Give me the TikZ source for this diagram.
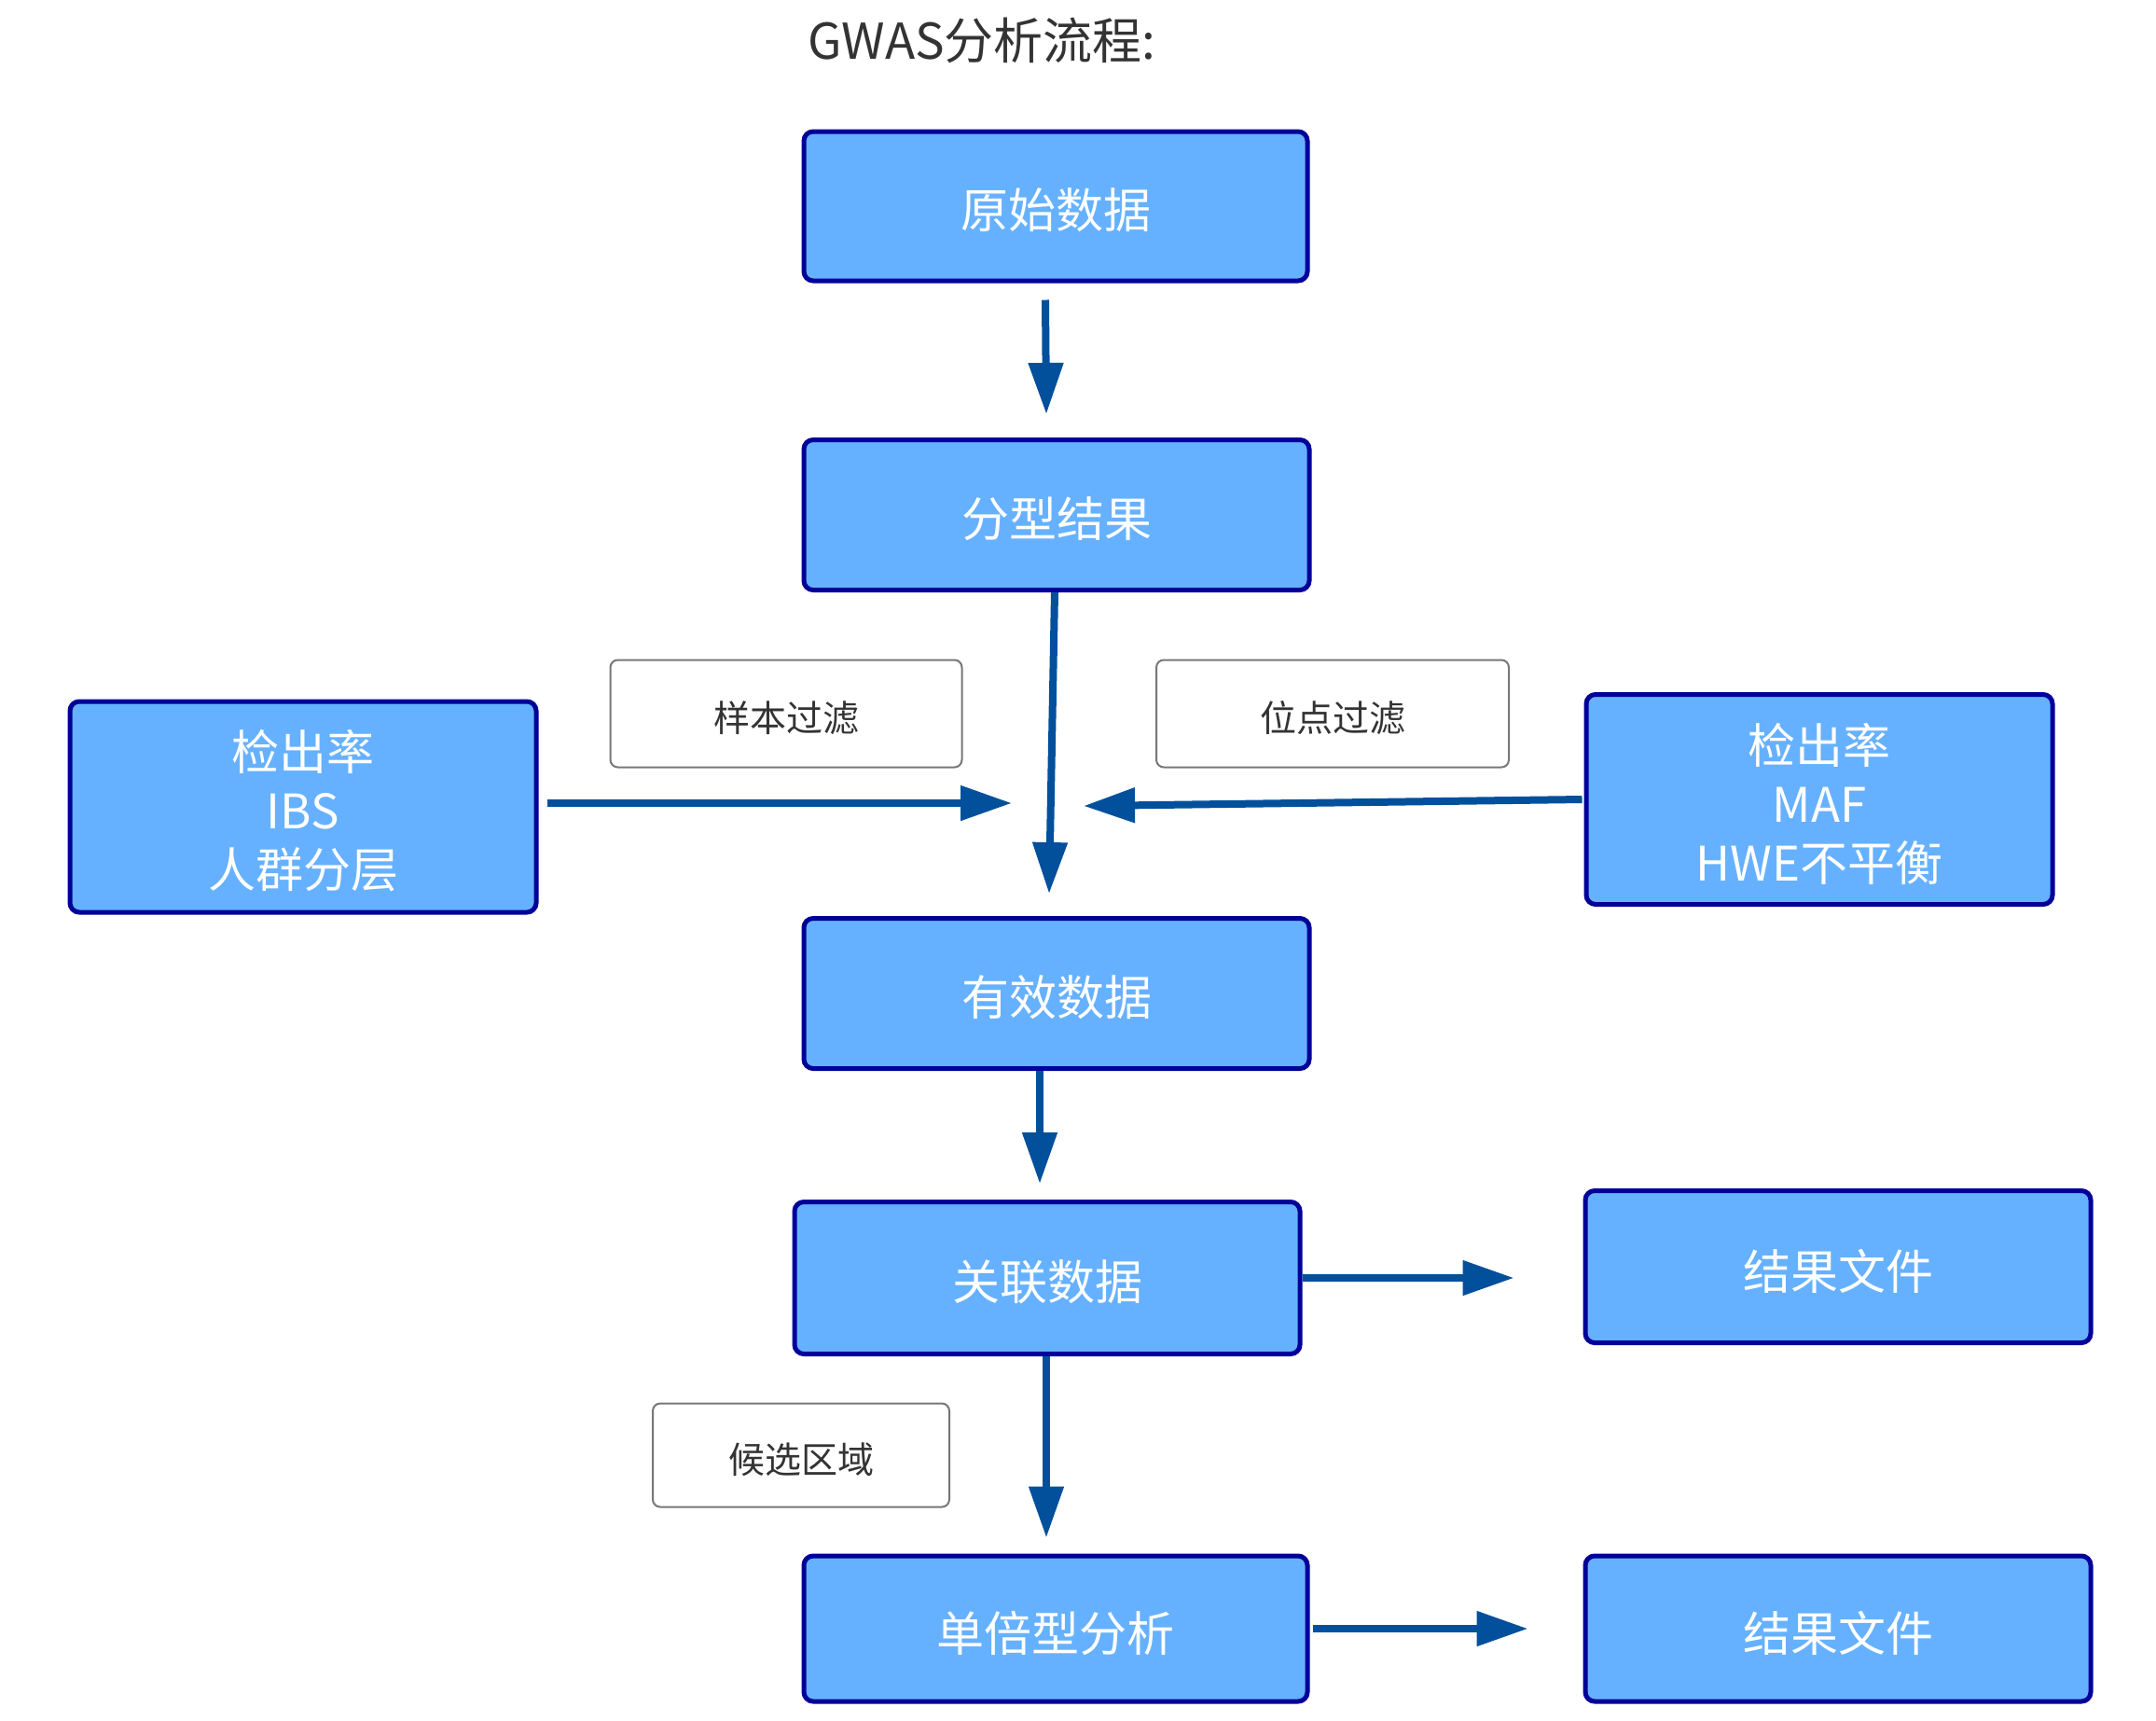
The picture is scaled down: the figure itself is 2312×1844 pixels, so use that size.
\documentclass[tikz,border=0pt]{standalone}
\usepackage{fontspec}
\setmainfont{Noto Sans CJK SC}
\usetikzlibrary{arrows.meta}
\definecolor{boxfill}{HTML}{66B1FF}
\definecolor{boxline}{HTML}{000099}
\definecolor{arrowblue}{HTML}{02509C}
\definecolor{labelgray}{HTML}{777777}
\definecolor{textgray}{HTML}{333333}
\tikzset{
  bluebox/.style={draw=boxline, fill=boxfill, line width=2.5pt, rounded corners=5pt,
    inner sep=0pt},
  boxtext/.style={text=white, align=center, inner sep=0pt, yshift=-2.3pt,
    font=\fontsize{25.5pt}{31.5pt}\selectfont},
  btext/.style={label={[boxtext]center:{#1}}},
  labelbox/.style={draw=labelgray, fill=white, line width=1pt, rounded corners=4pt,
    inner sep=0pt},
  labeltext/.style={text=textgray, align=center, inner sep=0pt, yshift=-2.3pt,
    font=\fontsize{19.5pt}{24pt}\selectfont},
  ltext/.style={label={[labeltext]center:{#1}}},
  arr/.style={draw=arrowblue, line width=4pt, -{Triangle[length=27.5pt,width=18pt]}, arrowblue}
}
\begin{document}
\begin{tikzpicture}[x=0.5pt,y=-0.5pt]
\useasboundingbox (0,0) rectangle (2312,1844);
\node[text=textgray, font=\fontsize{26.5pt}{30pt}\selectfont, inner sep=0pt] (title) at (1053,43) {GWAS分析流程:};
\node[bluebox, minimum width=270pt, minimum height=80pt, btext={原始数据}] (yuan) at (1132,221) {};
\node[bluebox, minimum width=271pt, minimum height=80.5pt, btext={分型结果}] (fen) at (1133,552) {};
\node[bluebox, minimum width=271pt, minimum height=80.5pt, btext={有效数据}] (youxiao) at (1133,1065) {};
\node[bluebox, minimum width=271pt, minimum height=81.5pt, btext={关联数据}] (guanlian) at (1123,1370) {};
\node[bluebox, minimum width=271pt, minimum height=81.5pt, btext={结果文件}] (res1) at (1971,1358) {};
\node[bluebox, minimum width=270pt, minimum height=78pt, btext={单倍型分析}] (dan) at (1132,1746) {};
\node[bluebox, minimum width=271pt, minimum height=78pt, btext={结果文件}] (res2) at (1971,1746) {};
\node[bluebox, minimum width=250pt, minimum height=113pt, btext={检出率\\IBS\\人群分层}] (left) at (325,865) {};
\node[bluebox, minimum width=250pt, minimum height=112.5pt, btext={检出率\\MAF\\HWE不平衡}] (right) at (1951,857) {};
\node[labelbox, minimum width=188.5pt, minimum height=57.5pt, ltext={样本过滤}] (ybgl) at (843,765) {};
\node[labelbox, minimum width=189pt, minimum height=57.5pt, ltext={位点过滤}] (wdgl) at (1429,765) {};
\node[labelbox, minimum width=159pt, minimum height=55.5pt, ltext={候选区域}] (hxqy) at (859,1560) {};
\coordinate (pL) at (1085,861);
\coordinate (pR) at (1162,864);
\draw[arr] ([xshift=-5.5pt,yshift=-9pt]yuan.south) -- ([xshift=-5.5pt,yshift=12.5pt]fen.north);
\draw[arr] ([xshift=-1pt]fen.south) -- ([xshift=-4pt,yshift=12pt]youxiao.north);
\draw[arr] ([xshift=4.5pt,yshift=2pt]left.east) -- (pL);
\draw[arr] ([xshift=-1pt]right.west) -- (pR);
\draw[arr] ([xshift=-9pt]youxiao.south) -- ([xshift=-4pt,yshift=8.5pt]guanlian.north);
\draw[arr] (guanlian.east) -- ([xshift=-37pt,yshift=-6pt]res1.west);
\draw[arr] ([xshift=-0.5pt]guanlian.south) -- ([xshift=-5pt,yshift=8.5pt]dan.north);
\draw[arr] ([xshift=1.5pt]dan.east) -- ([xshift=-29.5pt]res2.west);
\end{tikzpicture}
\end{document}
